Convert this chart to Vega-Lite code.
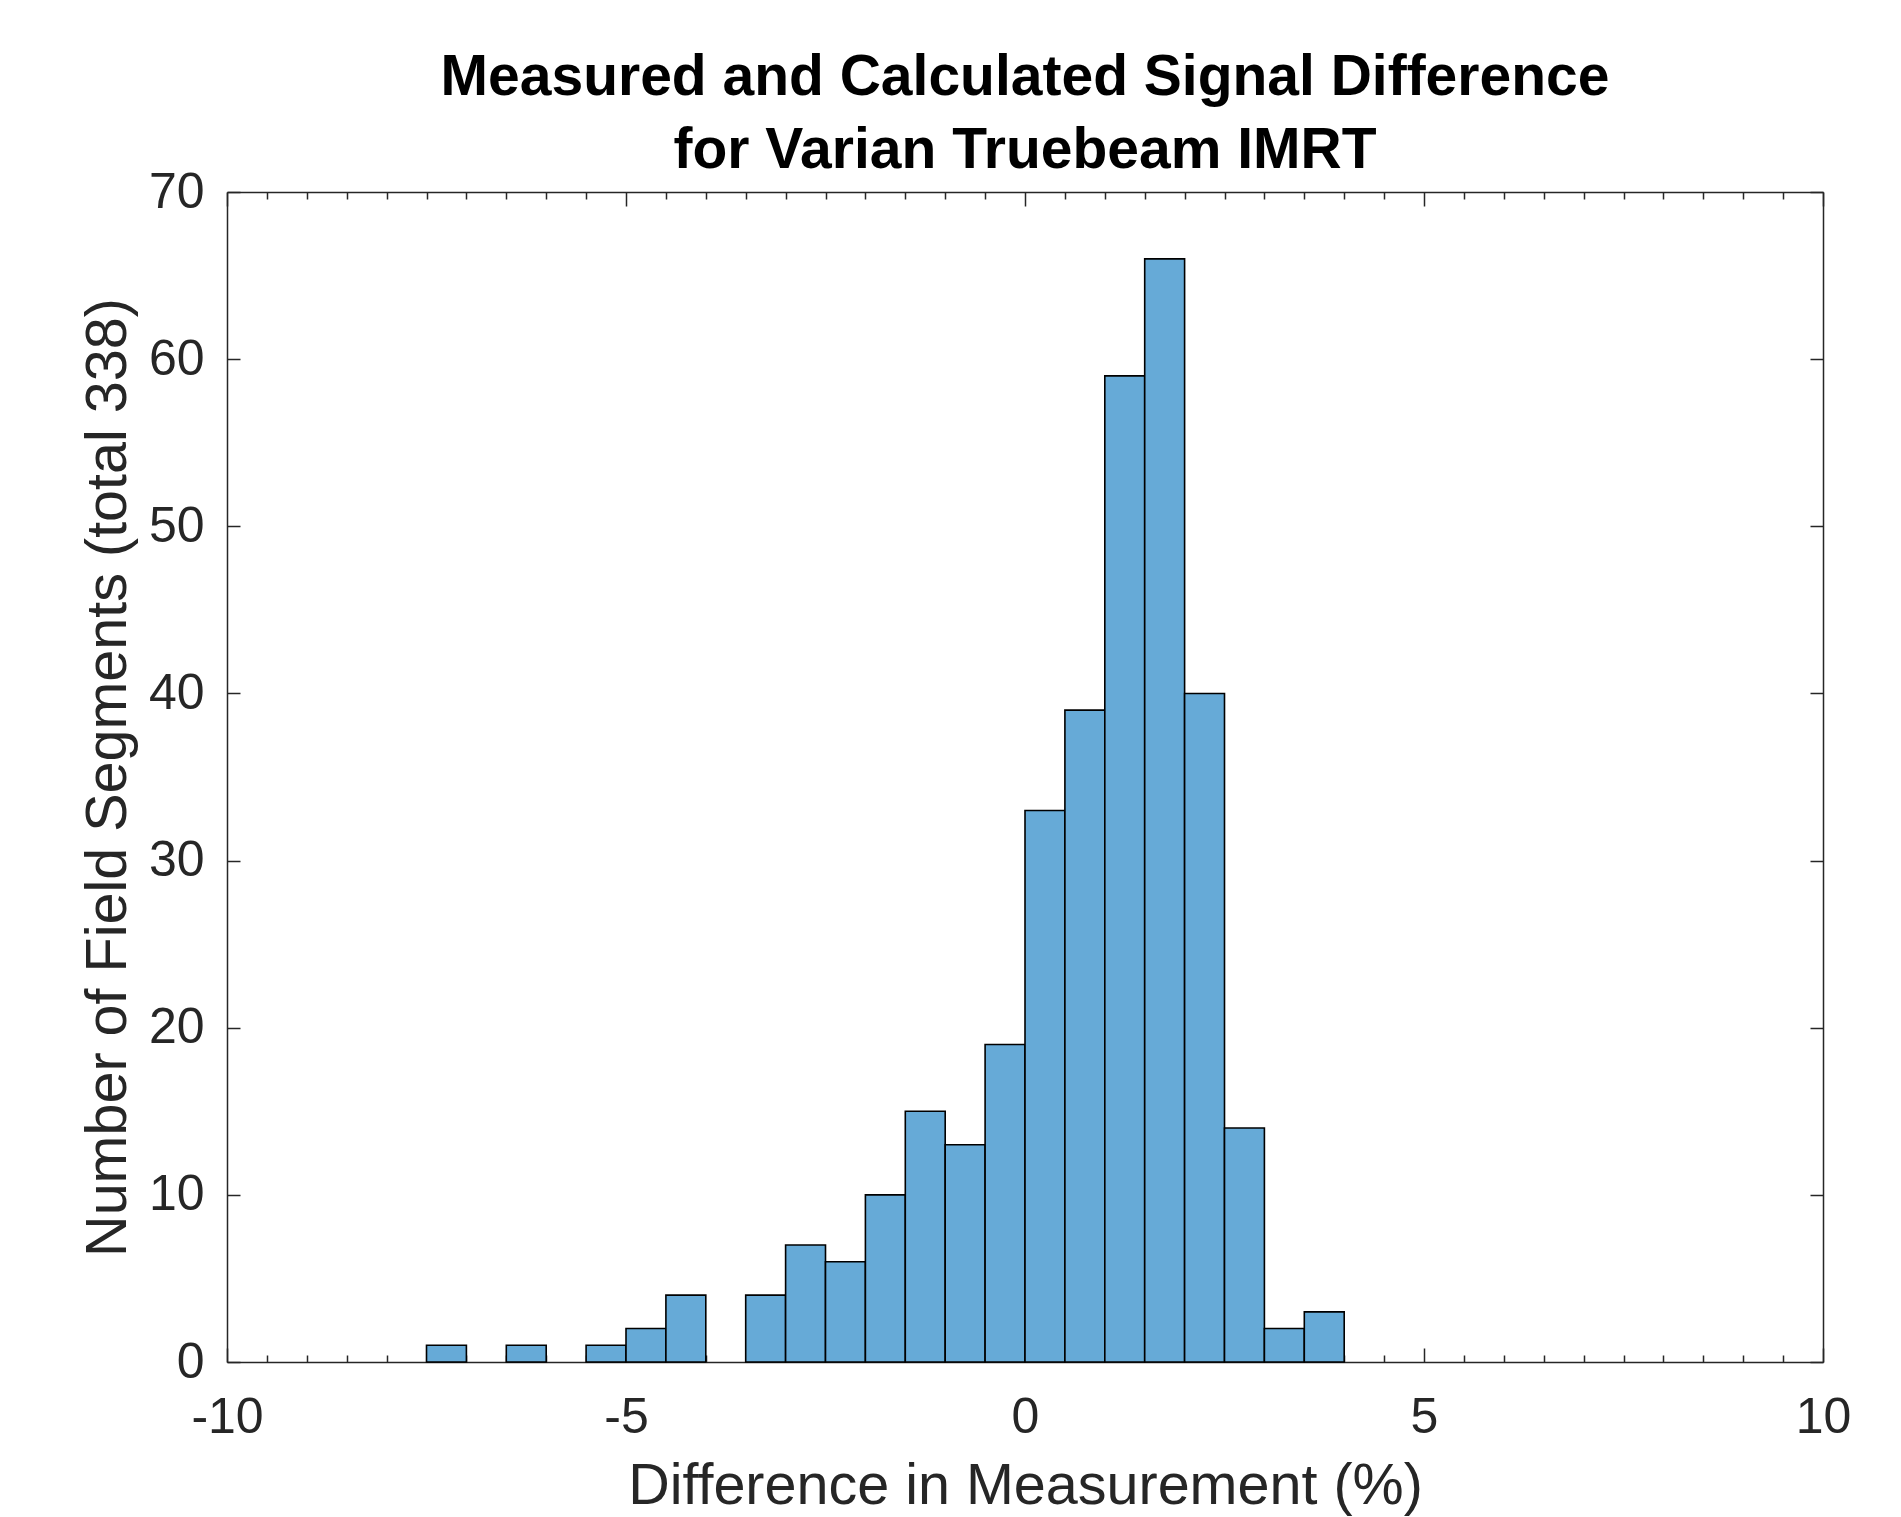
{
  "$schema": "https://vega.github.io/schema/vega-lite/v6.json",
  "width": 1596,
  "height": 1170,
  "autosize": "none",
  "padding": {"left": 227, "top": 192, "right": 78, "bottom": 155},
  "background": "white",
  "view": {"stroke": null},
  "title": {
    "text": ["Measured and Calculated Signal Difference", "for Varian Truebeam IMRT"],
    "font": "Liberation Sans",
    "fontSize": 57,
    "fontWeight": "bold",
    "color": "#000000",
    "lineHeight": 73,
    "anchor": "middle",
    "frame": "group",
    "offset": -13
  },
  "config": {
    "axis": {
      "domainColor": "#262626",
      "domainWidth": 1.5,
      "tickColor": "#262626",
      "tickWidth": 1.5,
      "grid": false,
      "labelFont": "Liberation Sans",
      "labelFontSize": 50,
      "labelColor": "#262626",
      "labelFlush": false,
      "titleFont": "Liberation Sans",
      "titleFontSize": 57.5,
      "titleFontWeight": "normal",
      "titleColor": "#262626"
    }
  },
  "data": {
    "values": [
      {"start": -7.5, "end": -7.0, "count": 1},
      {"start": -6.5, "end": -6.0, "count": 1},
      {"start": -5.5, "end": -5.0, "count": 1},
      {"start": -5.0, "end": -4.5, "count": 2},
      {"start": -4.5, "end": -4.0, "count": 4},
      {"start": -3.5, "end": -3.0, "count": 4},
      {"start": -3.0, "end": -2.5, "count": 7},
      {"start": -2.5, "end": -2.0, "count": 6},
      {"start": -2.0, "end": -1.5, "count": 10},
      {"start": -1.5, "end": -1.0, "count": 15},
      {"start": -1.0, "end": -0.5, "count": 13},
      {"start": -0.5, "end": 0.0, "count": 19},
      {"start": 0.0, "end": 0.5, "count": 33},
      {"start": 0.5, "end": 1.0, "count": 39},
      {"start": 1.0, "end": 1.5, "count": 59},
      {"start": 1.5, "end": 2.0, "count": 66},
      {"start": 2.0, "end": 2.5, "count": 40},
      {"start": 2.5, "end": 3.0, "count": 14},
      {"start": 3.0, "end": 3.5, "count": 2},
      {"start": 3.5, "end": 4.0, "count": 3}
    ]
  },
  "layer": [
    {
      "mark": {"type": "bar", "fill": "#66aad7", "stroke": "#000000", "strokeWidth": 1.6},
      "encoding": {
        "x": {"field": "start", "type": "quantitative",
              "scale": {"domain": [-10, 10], "nice": false, "zero": false},
              "axis": {"orient": "bottom", "values": [-10, -5, 0, 5, 10], "tickSize": -14, "labelPadding": 44, "labelExpr": "'' + datum.value", "title": "Difference in Measurement (%)", "titlePadding": 16}},
        "x2": {"field": "end"},
        "y": {"field": "count", "type": "quantitative",
              "scale": {"domain": [0, 70], "nice": false},
              "axis": {"orient": "left", "values": [0, 10, 20, 30, 40, 50, 60, 70], "tickSize": -13, "labelPadding": 36, "title": "Number of Field Segments (total 338)", "titlePadding": 11}},
        "y2": {"datum": 0}
      }
    },
    {
      "mark": {"type": "bar", "opacity": 0},
      "encoding": {
        "x": {"field": "start", "type": "quantitative",
              "scale": {"domain": [-10, 10], "nice": false, "zero": false},
              "axis": {"orient": "bottom", "values": [-9.5,-9,-8.5,-8,-7.5,-7,-6.5,-6,-5.5,-4.5,-4,-3.5,-3,-2.5,-2,-1.5,-1,-0.5,0.5,1,1.5,2,2.5,3,3.5,4,4.5,5.5,6,6.5,7,7.5,8,8.5,9,9.5], "tickSize": -7, "labels": false, "domain": false, "title": null}},
        "x2": {"field": "end"},
        "y": {"field": "count", "type": "quantitative",
              "scale": {"domain": [0, 70], "nice": false},
              "axis": {"orient": "right", "values": [0, 10, 20, 30, 40, 50, 60, 70], "tickSize": -13, "labels": false, "title": null}},
        "y2": {"datum": 0}
      }
    },
    {
      "mark": {"type": "bar", "opacity": 0},
      "encoding": {
        "x": {"field": "start", "type": "quantitative",
              "scale": {"domain": [-10, 10], "nice": false, "zero": false},
              "axis": {"orient": "top", "values": [-10, -5, 0, 5, 10], "tickSize": -14, "labels": false, "title": null}},
        "x2": {"field": "end"},
        "y": {"field": "count", "type": "quantitative", "axis": null},
        "y2": {"datum": 0}
      }
    },
    {
      "mark": {"type": "bar", "opacity": 0},
      "encoding": {
        "x": {"field": "start", "type": "quantitative",
              "scale": {"domain": [-10, 10], "nice": false, "zero": false},
              "axis": {"orient": "top", "values": [-9.5,-9,-8.5,-8,-7.5,-7,-6.5,-6,-5.5,-4.5,-4,-3.5,-3,-2.5,-2,-1.5,-1,-0.5,0.5,1,1.5,2,2.5,3,3.5,4,4.5,5.5,6,6.5,7,7.5,8,8.5,9,9.5], "tickSize": -7, "labels": false, "domain": false, "title": null}},
        "x2": {"field": "end"},
        "y": {"field": "count", "type": "quantitative", "axis": null},
        "y2": {"datum": 0}
      }
    }
  ],
  "resolve": {"axis": {"x": "independent", "y": "independent"}}
}
